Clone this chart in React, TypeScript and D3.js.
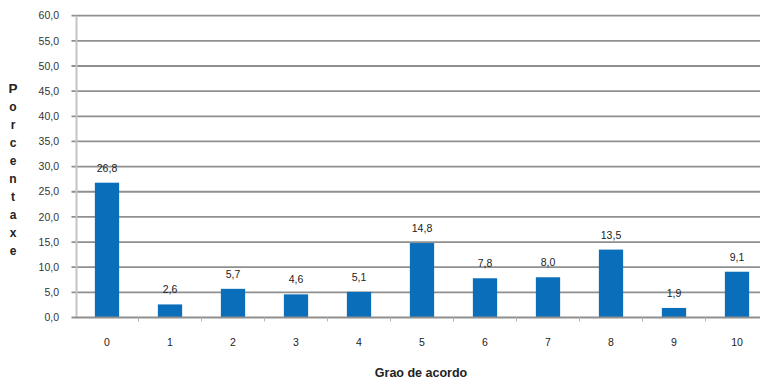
import React from "react";
import * as d3 from "d3";

// Survey results: share of respondents per agreement level
const categories = ["0", "1", "2", "3", "4", "5", "6", "7", "8", "9", "10"];
const percentages = [26.8, 2.6, 5.7, 4.6, 5.1, 14.8, 7.8, 8.0, 13.5, 1.9, 9.1];
const yTicks = [0, 5, 10, 15, 20, 25, 30, 35, 40, 45, 50, 55, 60];
const yTitle = "Porcentaxe";
const xTitle = "Grao de acordo";

const W = 760;
const H = 379;
const plot = { left: 75.5, right: 768.5, top: 15.7, bottom: 317.5 };
const fmt = (v: number) => v.toFixed(1).replace(".", ",");
const FONT = "'Liberation Sans', Arial, sans-serif";

export default function App() {
  const x = d3
    .scaleBand<string>()
    .domain(categories)
    .range([plot.left, plot.right])
    .paddingInner(0.615)
    .paddingOuter(0.3075);
  const step = x.step();
  const y = d3.scaleLinear().domain([0, 60]).range([plot.bottom, plot.top]);

  return (
    <svg
      width={W}
      height={H}
      style={{ position: "absolute", left: 0, top: 0, background: "#fff" }}
      fontFamily={FONT}
    >
      {/* horizontal gridlines and y tick labels */}
      {yTicks.map((t) => (
        <g key={t}>
          {t > 0 && (
            <line
              x1={plot.left - 4}
              x2={plot.right}
              y1={y(t)}
              y2={y(t)}
              stroke="#8f8f8f"
              strokeWidth={1.8}
            />
          )}
          <text
            x={59}
            y={y(t)}
            dy="0.35em"
            textAnchor="end"
            fontSize={10.5}
            fill="#333"
          >
            {fmt(t)}
          </text>
        </g>
      ))}

      {/* y axis line */}
      <line
        x1={plot.left + 1}
        x2={plot.left + 1}
        y1={plot.top}
        y2={plot.bottom}
        stroke="#c4c4c4"
        strokeWidth={2}
      />

      {/* bars */}
      {categories.map((c, i) => (
        <rect
          key={c}
          x={x(c)!}
          y={y(percentages[i])}
          width={x.bandwidth()}
          height={plot.bottom - y(percentages[i])}
          fill="#0A6EBB"
        />
      ))}

      {/* x axis line with category separators */}
      <line
        x1={plot.left - 4}
        x2={plot.right}
        y1={plot.bottom}
        y2={plot.bottom}
        stroke="#8f8f8f"
        strokeWidth={1.8}
      />
      {categories.slice(0, -1).map((c) => (
        <line
          key={"sep" + c}
          x1={x(c)! - x.step() * x.paddingOuter() + step}
          x2={x(c)! - x.step() * x.paddingOuter() + step}
          y1={plot.bottom}
          y2={plot.bottom + 4}
          stroke="#b5b5b5"
          strokeWidth={1}
        />
      ))}

      {/* value labels */}
      {categories.map((c, i) => (
        <text
          key={"v" + c}
          x={x(c)! + x.bandwidth() / 2}
          y={y(percentages[i]) - 11}
          textAnchor="middle"
          fontSize={10.5}
          fill="#222"
        >
          {fmt(percentages[i])}
        </text>
      ))}

      {/* category labels */}
      {categories.map((c) => (
        <text
          key={"c" + c}
          x={x(c)! + x.bandwidth() / 2}
          y={346}
          textAnchor="middle"
          fontSize={10.5}
          fill="#222"
        >
          {c}
        </text>
      ))}

      {/* axis titles */}
      <text
        x={421}
        y={377}
        textAnchor="middle"
        fontSize={12.5}
        fontWeight="bold"
        fill="#222"
      >
        {xTitle}
      </text>
      {yTitle.split("").map((ch, i) => (
        <text
          key={"t" + i}
          x={13}
          y={93 + i * 18}
          textAnchor="middle"
          fontSize={i === 0 ? 13.5 : 12}
          fontWeight="bold"
          fill="#222"
        >
          {ch}
        </text>
      ))}
    </svg>
  );
}
